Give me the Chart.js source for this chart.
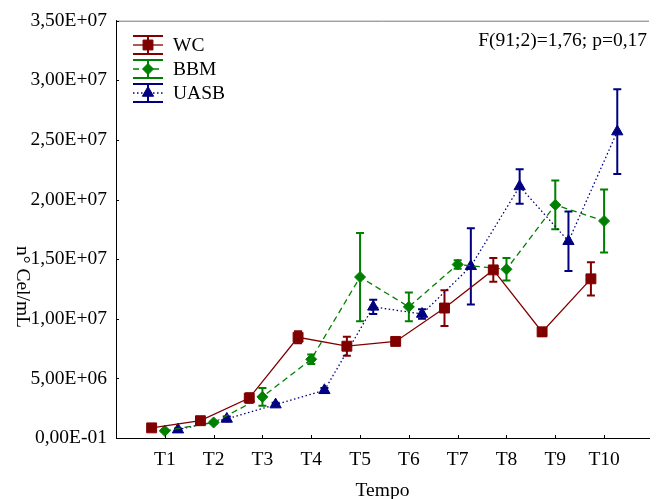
<!DOCTYPE html>
<html>
<head>
<meta charset="utf-8">
<script src="https://cdn.jsdelivr.net/npm/chart.js@4/dist/chart.umd.min.js"></script>
<style>
  html, body { margin: 0; padding: 0; background: #fff; }
  canvas { display: block; }
</style>
</head>
<body>
<canvas id="c" width="657" height="499"></canvas>
<script>
// ---------- DATA ----------
const categories = ['T1', 'T2', 'T3', 'T4', 'T5', 'T6', 'T7', 'T8', 'T9', 'T10'];
const yTickLabels = ['0,00E-01', '5,00E+06', '1,00E+07', '1,50E+07', '2,00E+07', '2,50E+07', '3,00E+07', '3,50E+07'];
const seriesNames = ['WC', 'BBM', 'UASB'];

const wcMean   = [0.85e6, 1.45e6, 3.35e6, 8.45e6, 7.7e6, 8.1e6, 10.9e6, 14.1e6, 8.9e6, 13.35e6];
const wcErr    = [0.12e6, 0.1e6, 0.4e6, 0.5e6, 0.8e6, 0.15e6, 1.5e6, 1.0e6, 0.35e6, 1.4e6];

const bbmMean  = [0.6e6, 1.3e6, 3.45e6, 6.6e6, 13.5e6, 11.0e6, 14.55e6, 14.15e6, 19.55e6, 18.2e6];
const bbmErr   = [0.1e6, 0.1e6, 0.75e6, 0.4e6, 3.7e6, 1.2e6, 0.35e6, 0.95e6, 2.05e6, 2.65e6];

const uasbMean = [0.7e6, 1.6e6, 2.8e6, 4.0e6, 11.0e6, 10.4e6, 14.4e6, 21.1e6, 16.5e6, 25.7e6];
const uasbErr  = [0.1e6, 0.2e6, 0.15e6, 0.2e6, 0.6e6, 0.4e6, 3.2e6, 1.45e6, 2.5e6, 3.55e6];

const statText = 'F(91;2)=1,76; p=0,17';
const xTitle = 'Tempo';
const yTitle = 'n\u00B0 Cel/mL';

// ---------- STYLES ----------
const FONT = '"Liberation Serif", "Times New Roman", serif';
const FS = 19.5;
const styles = [
  { color: '#800000', dash: [],         point: 'rect',     radius: 7,   offset: -0.27, lw: 1.3 },
  { color: '#008000', dash: [6, 4],     point: 'rectRot',  radius: 5.5, offset: 0,     lw: 1.3 },
  { color: '#000080', dash: [1.5, 2.5], point: 'triangle', radius: 6.5, offset: 0.27,  lw: 1.3 }
];
const means = [wcMean, bbmMean, uasbMean];
const errs = [wcErr, bbmErr, uasbErr];

const datasets = seriesNames.map((name, k) => ({
  label: name,
  data: means[k].map((m, i) => ({ x: i + 1 + styles[k].offset, y: m })),
  errors: errs[k],
  borderColor: styles[k].color,
  backgroundColor: styles[k].color,
  borderWidth: styles[k].lw,
  borderDash: styles[k].dash,
  pointStyle: styles[k].point,
  pointRadius: styles[k].radius,
  pointBorderWidth: 1,
  pointBackgroundColor: styles[k].color,
  pointBorderColor: styles[k].color,
  tension: 0,
  fill: false
}));

const errorBars = {
  id: 'errorBars',
  beforeDatasetsDraw(chart) {
    const { ctx, scales: { x, y } } = chart;
    chart.data.datasets.forEach((ds) => {
      ds.data.forEach((p, i) => {
        const e = ds.errors[i];
        const px = x.getPixelForValue(p.x);
        const top = y.getPixelForValue(p.y + e);
        const bot = y.getPixelForValue(p.y - e);
        ctx.save();
        ctx.strokeStyle = ds.borderColor;
        ctx.lineWidth = 2;
        ctx.beginPath();
        ctx.moveTo(px, top); ctx.lineTo(px, bot);
        ctx.moveTo(px - 4, top); ctx.lineTo(px + 4, top);
        ctx.moveTo(px - 4, bot); ctx.lineTo(px + 4, bot);
        ctx.stroke();
        ctx.restore();
      });
    });
  }
};

const decorations = {
  id: 'decorations',
  afterDraw(chart) {
    const { ctx, chartArea: ca, scales: { x, y } } = chart;
    ctx.save();
    // top border
    ctx.strokeStyle = '#777';
    ctx.lineWidth = 1;
    ctx.beginPath();
    ctx.moveTo(ca.left, ca.top + 0.5); ctx.lineTo(ca.right, ca.top + 0.5);
    ctx.stroke();
    // inner ticks
    ctx.strokeStyle = '#000';
    ctx.beginPath();
    y.ticks.forEach(t => {
      const py = Math.round(y.getPixelForValue(t.value)) + 0.5;
      ctx.moveTo(ca.left, py); ctx.lineTo(ca.left + 3, py);
    });
    x.ticks.forEach(t => {
      const px = Math.round(x.getPixelForValue(t.value)) + 0.5;
      ctx.moveTo(px, ca.bottom); ctx.lineTo(px, ca.bottom - 3);
    });
    ctx.stroke();

    // y title (rotated clockwise)
    ctx.fillStyle = '#000';
    ctx.font = FS + 'px ' + FONT;
    ctx.save();
    ctx.translate(22, 287);
    ctx.rotate(Math.PI / 2);
    ctx.textAlign = 'center';
    ctx.textBaseline = 'middle';
    ctx.fillText(chart.options.scales.y.title.text, 0, 0);
    ctx.restore();

    // stat annotation
    ctx.textAlign = 'right';
    ctx.textBaseline = 'middle';
    ctx.fillText(statText, 647, 41);

    // legend
    chart.data.datasets.forEach((ds, k) => {
      const st = styles[k];
      const cy = 45 + 24 * k;
      const x0 = 133, x1 = 163, xm = 148;
      ctx.strokeStyle = st.color;
      ctx.lineWidth = 2;
      ctx.setLineDash([]);
      ctx.beginPath();
      ctx.moveTo(x0, cy - 9); ctx.lineTo(x1, cy - 9);
      ctx.moveTo(x0, cy + 9); ctx.lineTo(x1, cy + 9);
      ctx.moveTo(xm, cy - 9); ctx.lineTo(xm, cy + 9);
      ctx.stroke();
      ctx.lineWidth = st.lw;
      ctx.setLineDash(st.dash);
      ctx.beginPath();
      ctx.moveTo(x0, cy); ctx.lineTo(x1, cy);
      ctx.stroke();
      ctx.setLineDash([]);
      ctx.fillStyle = st.color;
      ctx.lineWidth = 1;
      Chart.helpers.drawPoint(ctx, { pointStyle: st.point, radius: st.radius, rotation: 0, borderWidth: 1 }, xm, cy);
      ctx.fillStyle = '#000';
      ctx.textAlign = 'left';
      ctx.textBaseline = 'middle';
      ctx.fillText(ds.label, 173, cy + 1);
    });
    ctx.restore();
  }
};

new Chart(document.getElementById('c'), {
  type: 'line',
  data: { datasets },
  plugins: [errorBars, decorations],
  options: {
    responsive: false,
    animation: false,
    events: [],
    layout: { padding: { left: 0, top: 19, right: 0, bottom: 0 } },
    plugins: { legend: { display: false }, tooltip: { enabled: false } },
    scales: {
      x: {
        type: 'linear',
        min: 0,
        max: 10.92,
        afterBuildTicks: (s) => { s.ticks = categories.map((c, i) => ({ value: i + 1 })); },
        afterFit: (s) => { s.height = 61; },
        ticks: {
          callback: (v) => categories[Math.round(v) - 1],
          color: '#000',
          font: { family: FONT, size: FS },
          padding: 10,
          maxRotation: 0,
          autoSkip: false
        },
        grid: { display: false, drawTicks: false },
        border: { display: true, color: '#000', width: 1 },
        title: {
          display: true,
          text: xTitle,
          color: '#000',
          font: { family: FONT, size: FS, lineHeight: 1 },
          padding: { top: 0, bottom: -2 }
        }
      },
      y: {
        min: 0,
        max: 3.5e7,
        afterFit: (s) => { s.width = 116; },
        ticks: {
          stepSize: 5e6,
          callback: (v, i) => yTickLabels[i],
          color: '#000',
          font: { family: FONT, size: FS },
          padding: 9
        },
        grid: { display: false, drawTicks: false },
        border: { display: true, color: '#000', width: 1 },
        title: { display: false, text: yTitle }
      }
    }
  }
});
</script>
</body>
</html>
